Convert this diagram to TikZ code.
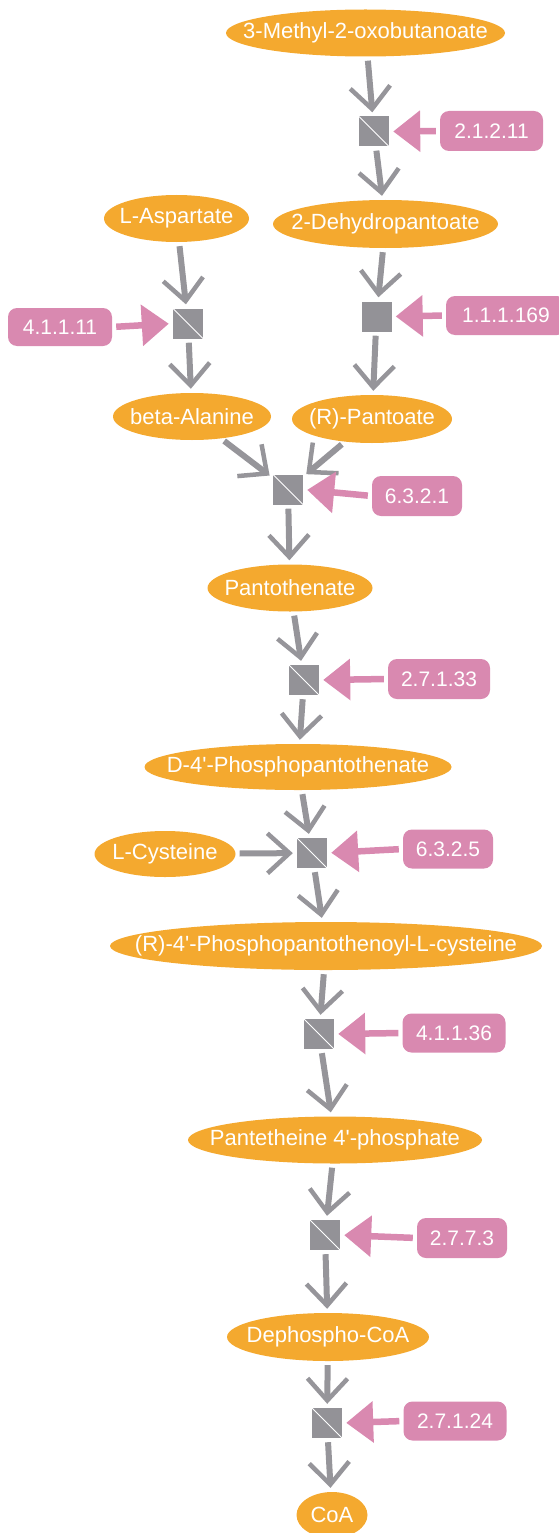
\documentclass[tikz,border=0pt]{standalone}
\usepackage{fontspec}
\setmainfont{Liberation Sans}
\usetikzlibrary{shapes.geometric,arrows.meta}
\definecolor{metfill}{RGB}{244,169,47}
\definecolor{enzfill}{RGB}{217,137,176}
\definecolor{rxnfill}{RGB}{147,146,151}
\definecolor{arrgray}{RGB}{150,149,154}
\newcommand{\mtext}[1]{\makebox[0pt]{#1}}
\begin{document}
\begin{tikzpicture}[x=1pt,y=-1pt,
  met/.style={ellipse, fill=metfill, text=white, inner sep=0pt, font=\fontsize{22}{22}\selectfont},
  enz/.style={rectangle, rounded corners=9pt, fill=enzfill, text=white, inner sep=0pt, minimum height=40pt, font=\fontsize{21}{21}\selectfont},
  rxnplain/.style={rectangle, fill=rxnfill, inner sep=0pt, minimum width=30pt, minimum height=30pt},
  rxn/.style={rxnplain, path picture={\draw[white, line width=0.9pt] (path picture bounding box.north west) -- (path picture bounding box.south east);}},
  garrow/.style={draw=arrgray, line width=6pt, -{Straight Barb[length=22pt, width=40pt, line width=4.5pt]}, shorten <=4pt, shorten >=4pt},
  parrow/.style={draw=enzfill, line width=6.5pt, -{Triangle[length=27pt, width=40pt]}, shorten <=4pt, shorten >=4pt},
]
\useasboundingbox (0,0) rectangle (559,1533);

% metabolites
\node[met, minimum width=279pt, minimum height=47pt] (m1) at (365.5,33) {\mtext{3-Methyl-2-oxobutanoate}};
\node[met, minimum width=225pt, minimum height=48pt] (m2) at (385.5,224) {\mtext{2-Dehydropantoate}};
\node[met, minimum width=145pt, minimum height=47pt] (m3) at (176.5,218.5) {\mtext{L-Aspartate}};
\node[met, minimum width=158pt, minimum height=47pt] (m4) at (192,416.5) {\mtext{beta-Alanine}};
\node[met, minimum width=160pt, minimum height=48pt] (m5) at (372,419) {\mtext{(R)-Pantoate}};
\node[met, minimum width=165pt, minimum height=47pt] (m6) at (290,588) {\mtext{Pantothenate}};
\node[met, minimum width=307pt, minimum height=46pt] (m7) at (298,767) {\mtext{D-4\textquotesingle-Phosphopantothenate}};
\node[met, minimum width=141pt, minimum height=46pt] (m8) at (165,854) {\mtext{L-Cysteine}};
\node[met, minimum width=432pt, minimum height=48pt] (m9) at (326,946) {\mtext{(R)-4\textquotesingle-Phosphopantothenoyl-L-cysteine}};
\node[met, minimum width=294pt, minimum height=47pt] (m10) at (335,1140) {\mtext{Pantetheine 4\textquotesingle-phosphate}};
\node[met, minimum width=202pt, minimum height=48pt] (m11) at (328,1337) {\mtext{Dephospho-CoA}};
\node[met, minimum width=71pt, minimum height=46pt] (m12) at (332,1515) {\mtext{CoA}};

% reactions
\node[rxn] (r1) at (374,131.5) {};
\node[rxn] (r2) at (188,323.5) {};
\node[rxnplain] (r3) at (376.5,316.5) {};
\node[rxn] (r4) at (288,489.5) {};
\node[rxn] (r5) at (304,680) {};
\node[rxn] (r6) at (312,853) {};
\node[rxn] (r7) at (319,1034) {};
\node[rxn] (r8) at (325,1235) {};
\node[rxn] (r9) at (327,1423) {};

% enzymes
\node[enz, minimum width=103pt] (e1) at (491.5,131) {2.1.2.11};
\node[enz, minimum width=104pt, minimum height=38pt] (e2) at (60,327) {4.1.1.11};
\node[enz, minimum width=120pt, minimum height=39pt] (e3) at (506,315.5) {1.1.1.169};
\node[enz, minimum width=90pt] (e4) at (417,496) {6.3.2.1};
\node[enz, minimum width=102pt] (e5) at (439,679) {2.7.1.33};
\node[enz, minimum width=90pt, minimum height=39pt] (e6) at (448,849) {6.3.2.5};
\node[enz, minimum width=103pt, minimum height=39pt] (e7) at (454,1033) {4.1.1.36};
\node[enz, minimum width=90pt] (e8) at (462,1238) {2.7.7.3};
\node[enz, minimum width=103pt, minimum height=39pt] (e9) at (455,1421) {2.7.1.24};

% substrate/product arrows
\draw[garrow] (m1) -- (r1);
\draw[garrow] (r1) -- (m2);
\draw[garrow] (m3) -- (r2);
\draw[garrow] (r2) -- (m4);
\draw[garrow] (m2) -- (r3);
\draw[garrow] (r3) -- (m5);
\draw[garrow] (m4) -- (r4);
\draw[garrow] (m5) -- (r4);
\draw[garrow] (r4) -- (m6);
\draw[garrow] (m6) -- (r5);
\draw[garrow] (r5) -- (m7);
\draw[garrow] (m7) -- (r6);
\draw[garrow] (m8) -- (r6);
\draw[garrow] (r6) -- (m9);
\draw[garrow] (m9) -- (r7);
\draw[garrow] (r7) -- (m10);
\draw[garrow] (m10) -- (r8);
\draw[garrow] (r8) -- (m11);
\draw[garrow] (m11) -- (r9);
\draw[garrow] (r9) -- (m12);

% enzyme arrows
\draw[parrow] (e1.west) -- (r1.east);
\draw[parrow] (e2.east) -- (r2.west);
\draw[parrow] (e3.west) -- (r3.east);
\draw[parrow] (e4.west) -- (r4.east);
\draw[parrow] (e5.west) -- (r5.east);
\draw[parrow] (e6.west) -- (r6.east);
\draw[parrow] (e7.west) -- (r7.east);
\draw[parrow] (e8.west) -- (r8.east);
\draw[parrow] (e9.west) -- (r9.east);
\end{tikzpicture}
\end{document}
